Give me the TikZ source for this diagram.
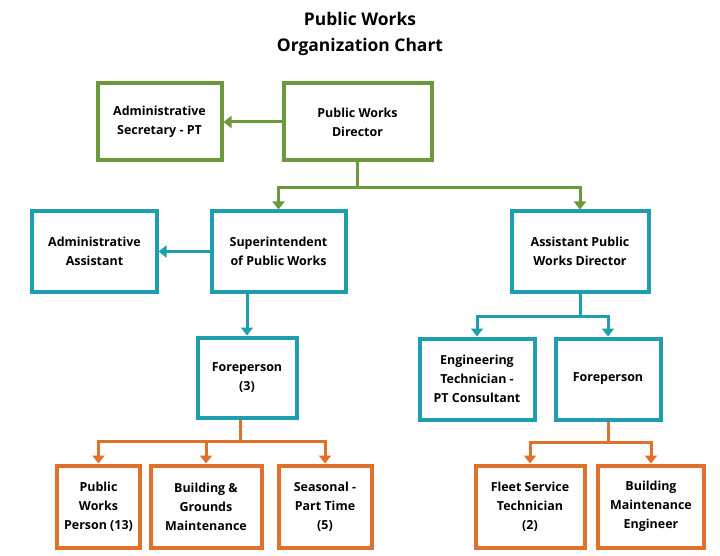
\documentclass[tikz,border=0pt]{standalone}
\usepackage{fontspec}
\setmainfont{Open Sans}
\usetikzlibrary{positioning, arrows.meta}
\definecolor{pwgreen}{HTML}{6A9A3A}
\definecolor{pwteal}{HTML}{1E9FB0}
\definecolor{pworange}{HTML}{E0702A}

\begin{document}
\begin{tikzpicture}[x=1bp, y=-1bp,
  box/.style={draw=#1, line width=4bp, align=center, inner sep=1bp, text=black,
    font=\bfseries\fontsize{12.5}{19}\selectfont},
  link/.style={line width=3bp, -{Triangle[length=8bp,width=12bp]}},
  plain link/.style={line width=3bp}]

\useasboundingbox (0,0) rectangle (720,556);

\node[font=\bfseries\fontsize{17.5}{27}\selectfont, align=center] (title) at (360,34)
  {Public Works\\Organization Chart};

% top level
\node[box=pwgreen, minimum width=148bp, minimum height=77bp] (dir) at (357.5,122) {Public Works\\Director};
\node[box=pwgreen, minimum width=124bp, minimum height=77bp] (sec) at (159.5,122) {Administrative\\Secretary - PT};

% second level
\node[box=pwteal, minimum width=134bp, minimum height=80bp] (sup) at (278.5,251.5) {Superintendent\\of Public Works};
\node[box=pwteal, minimum width=124bp, minimum height=80bp] (aa) at (94.5,251.5) {Administrative\\Assistant};
\node[box=pwteal, minimum width=137bp, minimum height=80bp] (apd) at (580,251.5) {Assistant Public\\Works Director};

% third level
\node[box=pwteal, minimum width=99bp, minimum height=80bp] (fp3) at (247,377.5) {Foreperson\\(3)};
\node[box=pwteal, minimum width=115bp, minimum height=81bp] (eng) at (477,379) {Engineering\\Technician -\\PT Consultant};
\node[box=pwteal, minimum width=105bp, minimum height=81bp] (fp) at (608,379) {Foreperson};

% bottom level
\node[box=pworange, minimum width=83bp, minimum height=82bp] (pwp) at (98.5,506.5) {Public\\Works\\Person (13)};
\node[box=pworange, minimum width=111bp, minimum height=82bp] (bgm) at (206,506.5) {Building \&\\Grounds\\Maintenance};
\node[box=pworange, minimum width=93bp, minimum height=82bp] (sea) at (325,506.5) {Seasonal -\\Part Time\\(5)};
\node[box=pworange, minimum width=109bp, minimum height=82bp] (fst) at (530,506.5) {Fleet Service\\Technician\\(2)};
\node[box=pworange, minimum width=106bp, minimum height=82bp] (bme) at (651,506.5) {Building\\Maintenance\\Engineer};

% green connectors
\draw[link, pwgreen] (dir.west) -- (sec.east);
\coordinate (jdir) at (357.5,188);
\draw[plain link, pwgreen] (dir.south) -- (jdir);
\draw[link, pwgreen] (jdir) -| (sup.north);
\draw[link, pwgreen] (jdir) -| (apd.north);

% teal connectors
\draw[link, pwteal] (sup.west) -- (aa.east);
\draw[link, pwteal] (sup.south -| fp3.north) -- (fp3.north);
\coordinate (japd) at (580,316);
\draw[plain link, pwteal] (apd.south) -- (japd);
\draw[link, pwteal] (japd) -| (eng.north);
\draw[link, pwteal] (japd) -| (fp.north);

% orange connectors
\coordinate (jfp3) at (240,441);
\draw[plain link, pworange] (fp3.south -| jfp3) -- (jfp3);
\draw[link, pworange] (jfp3) -| (pwp.north);
\draw[link, pworange] (jfp3) -| (bgm.north);
\draw[link, pworange] (jfp3) -| (sea.north);
\coordinate (jfp) at (608,442);
\draw[plain link, pworange] (fp.south) -- (jfp);
\draw[link, pworange] (jfp) -| (fst.north);
\draw[link, pworange] (jfp) -| (bme.north);

\end{tikzpicture}
\end{document}
